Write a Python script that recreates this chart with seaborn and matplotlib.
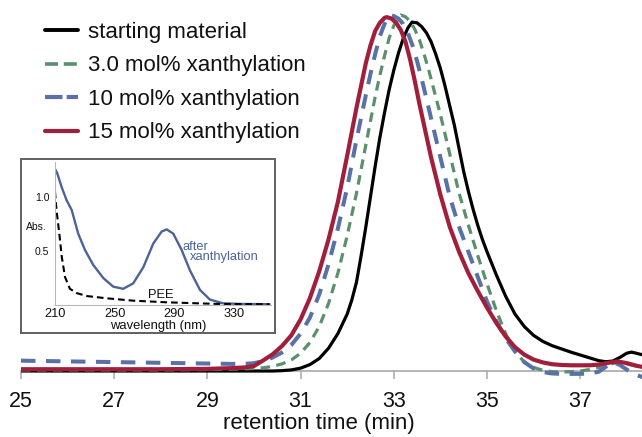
import matplotlib
matplotlib.use("Agg")
import matplotlib.pyplot as plt
from matplotlib.lines import Line2D
import seaborn as sns

# ---------------- data ----------------
labels = ["starting material", "3.0 mol% xanthylation",
          "10 mol% xanthylation", "15 mol% xanthylation"]

t_start = [25, 26, 27, 28, 29, 30, 30.4, 30.6, 30.8, 31.0, 31.2, 31.4, 31.6, 31.8,
           32.0, 32.1, 32.2, 32.3, 32.4, 32.5, 32.6, 32.7, 32.8, 32.9, 33.0, 33.1, 33.2,
           33.3, 33.39, 33.5, 33.6, 33.7, 33.8, 33.9, 34.0, 34.1, 34.2, 34.3, 34.4, 34.5,
           34.6, 34.7, 34.8, 34.9, 35.0, 35.2, 35.4, 35.6, 35.8, 36.0, 36.2, 36.4, 36.6,
           36.8, 37.0, 37.2, 37.4, 37.55, 37.7, 37.85, 38.0, 38.1, 38.2, 38.35]
v_start = [0, 0, 0, 0, 0, 0, 0.0, 0.001, 0.003, 0.008, 0.018, 0.035, 0.064, 0.105,
           0.16, 0.2, 0.25, 0.325, 0.405, 0.49, 0.575, 0.655, 0.725, 0.79, 0.845, 0.893,
           0.933, 0.963, 0.98, 0.978, 0.967, 0.95, 0.925, 0.89, 0.85, 0.80, 0.745, 0.69,
           0.625, 0.56, 0.505, 0.455, 0.41, 0.37, 0.335, 0.27, 0.21, 0.16, 0.125, 0.10,
           0.083, 0.071, 0.062, 0.053, 0.045, 0.037, 0.029, 0.026, 0.028, 0.038, 0.05,
           0.053, 0.05, 0.045]

t_3 = [25, 26, 27, 28, 29, 29.5, 29.8, 30.0, 30.2, 30.4, 30.6, 30.8, 31.0, 31.2, 31.4,
       31.6, 31.8, 32.0, 32.2, 32.4, 32.6, 32.7, 32.8, 32.9, 33.0, 33.1, 33.15, 33.25,
       33.35, 33.45, 33.55, 33.65, 33.75, 33.85, 34.0, 34.2, 34.4, 34.6, 34.8, 35.0,
       35.2, 35.4, 35.6, 35.8, 36.0, 36.2, 36.4, 36.6, 36.8, 37.0, 37.2, 37.4, 37.6,
       37.8, 38.0, 38.2, 38.35]
v_3 = [0.003, 0.003, 0.003, 0.003, 0.004, 0.005, 0.006, 0.007, 0.009, 0.013, 0.02,
       0.031, 0.05, 0.08, 0.125, 0.19, 0.275, 0.38, 0.50, 0.635, 0.77, 0.83, 0.885,
       0.935, 0.97, 0.993, 1.0, 0.995, 0.982, 0.96, 0.93, 0.89, 0.845, 0.795, 0.72,
       0.61, 0.50, 0.41, 0.325, 0.245, 0.17, 0.105, 0.055, 0.025, 0.01, 0.002, -0.002,
       -0.003, -0.002, 0.0, 0.004, 0.01, 0.018, 0.024, 0.02, 0.014, 0.01]

t_10 = [25, 26, 27, 28, 29, 29.5, 29.8, 30.0, 30.2, 30.4, 30.6, 30.8, 31.0, 31.2,
        31.4, 31.6, 31.8, 32.0, 32.2, 32.4, 32.5, 32.6, 32.7, 32.8, 32.92, 33.0, 33.1,
        33.2, 33.3, 33.4, 33.5, 33.6, 33.7, 33.8, 34.0, 34.2, 34.4, 34.6, 34.8, 35.0,
        35.2, 35.4, 35.6, 35.8, 36.0, 36.2, 36.4, 36.6, 36.8, 37.0, 37.2, 37.4, 37.55,
        37.7, 37.85, 38.0, 38.15, 38.35]
v_10 = [0.029, 0.027, 0.025, 0.023, 0.021, 0.02, 0.02, 0.022, 0.028, 0.038, 0.052,
        0.073, 0.105, 0.15, 0.215, 0.30, 0.40, 0.515, 0.65, 0.775, 0.835, 0.89, 0.94,
        0.975, 1.0, 0.997, 0.99, 0.975, 0.95, 0.915, 0.87, 0.82, 0.765, 0.71, 0.60,
        0.49, 0.405, 0.335, 0.265, 0.195, 0.14, 0.092, 0.055, 0.025, 0.007, -0.003,
        -0.007, -0.008, -0.008, -0.008, -0.007, -0.002, 0.012, 0.025, 0.017, 0.004,
        -0.008, -0.018]

t_15 = [25, 26, 27, 28, 29, 29.5, 29.8, 30.0, 30.2, 30.4, 30.6, 30.8, 31.0, 31.2,
        31.4, 31.6, 31.8, 32.0, 32.2, 32.4, 32.5, 32.6, 32.7, 32.8, 32.85, 32.95, 33.05,
        33.15, 33.25, 33.35, 33.45, 33.55, 33.65, 33.8, 34.0, 34.2, 34.4, 34.6, 34.8,
        35.0, 35.2, 35.4, 35.6, 35.8, 36.0, 36.2, 36.4, 36.6, 36.8, 37.0, 37.2, 37.4,
        37.6, 37.8, 38.0, 38.2, 38.35]
v_15 = [0.005, 0.005, 0.005, 0.005, 0.006, 0.008, 0.01, 0.014, 0.03, 0.047, 0.07, 0.10,
        0.145, 0.205, 0.28, 0.37, 0.475, 0.605, 0.74, 0.865, 0.915, 0.955, 0.978, 0.992,
        0.994, 0.99, 0.978, 0.958, 0.925, 0.875, 0.815, 0.75, 0.69, 0.60, 0.495, 0.405,
        0.335, 0.275, 0.225, 0.178, 0.135, 0.097, 0.067, 0.046, 0.032, 0.024, 0.019,
        0.017, 0.016, 0.016, 0.016, 0.018, 0.023, 0.027, 0.022, 0.015, 0.011]

x_ticks = [25, 27, 29, 31, 33, 35, 37]

# inset (UV-vis)
wl_after = [210, 211.5, 214.5, 217.8, 221.2, 225.6, 230.1, 235.7, 242.4, 249.1, 255.8,
            262.5, 269.3, 276, 281.6, 285, 289.4, 295, 300.6, 307.3, 314, 323, 334, 354]
abs_after = [1.26, 1.22, 1.09, 0.97, 0.88, 0.66, 0.51, 0.37, 0.25, 0.17, 0.15, 0.20, 0.35,
             0.57, 0.68, 0.70, 0.66, 0.51, 0.32, 0.14, 0.05, 0.015, 0.01, 0.007]
wl_pee = [210, 211, 212.9, 214.5, 216.7, 220, 224.6, 231.3, 244.7, 262.6, 285, 318.5, 354]
abs_pee = [1.05, 0.88, 0.66, 0.45, 0.26, 0.15, 0.11, 0.083, 0.062, 0.04, 0.025, 0.01, 0.007]
inset_xticks = [210, 250, 290, 330]
inset_yticks = [0.5, 1.0]

# ---------------- style ----------------
sns.set_theme(style="white")
plt.rcParams["font.family"] = ["Liberation Sans", "DejaVu Sans"]

W, H = 642, 437
fig = plt.figure(figsize=(W / 100, H / 100), dpi=100)

def fx(px):
    return px / W

def fy(py):
    return 1 - py / H

base_px, unit_px = 371, 356
ax = fig.add_axes([fx(21), fy(385), 1 - fx(21), (385 - 5) / H])

c_black = "#000000"
c_green = "#5b8f6e"
c_blue = "#5872a8"
c_red = "#a21f3c"

sns.lineplot(x=t_start, y=v_start, ax=ax, color=c_black, linewidth=2.3, zorder=3)
sns.lineplot(x=t_3, y=v_3, ax=ax, color=c_green, linewidth=2.3,
             linestyle=(0, (3.0, 2.0)), zorder=4)
sns.lineplot(x=t_10, y=v_10, ax=ax, color=c_blue, linewidth=2.9,
             linestyle=(0, (3.6, 2.6)), zorder=5)
sns.lineplot(x=t_15, y=v_15, ax=ax, color=c_red, linewidth=3.0, zorder=6)

ax.set_xlim(25, 25 + (W - 21) / 46.6)
ax.set_ylim((base_px - 385) / unit_px, (base_px - 5) / unit_px)
for s in ["top", "right", "left"]:
    ax.spines[s].set_visible(False)
ax.spines["bottom"].set_position(("data", 0))
ax.spines["bottom"].set_color("#a8a8a8")
ax.spines["bottom"].set_linewidth(1.2)
ax.set_xticks(x_ticks)
ax.set_yticks([])
ax.tick_params(axis="x", direction="out", length=6, width=1.1, color="#a8a8a8",
               labelsize=15.5, pad=8.5, bottom=True, labelcolor="#111111")
ax.set_xlabel("retention time (min)", fontsize=16, color="#111111")
ax.xaxis.set_label_coords(fx(319), fy(423), transform=fig.transFigure)
ax.xaxis.label.set_verticalalignment("center")
ax.set_ylabel("")

handles = [
    Line2D([], [], color=c_black, linewidth=2.8),
    Line2D([], [], color=c_green, linewidth=2.6, linestyle=(0, (3.6, 1.6))),
    Line2D([], [], color=c_blue, linewidth=3.0, linestyle=(0, (4.2, 1.0))),
    Line2D([], [], color=c_red, linewidth=3.0),
]
leg = ax.legend(handles, labels, loc="upper left",
                bbox_to_anchor=(fx(45), fy(22)), bbox_transform=fig.transFigure,
                frameon=False, fontsize=16, handlelength=1.5, handletextpad=0.45,
                labelspacing=0.56, borderpad=0, borderaxespad=0)
for txt in leg.get_texts():
    txt.set_color("#111111")

# ---------------- inset ----------------
frame = fig.add_axes([fx(21), fy(333), (275 - 21) / W, (333 - 159) / H], zorder=5)
frame.set_xticks([])
frame.set_yticks([])
frame.set_facecolor("white")
for s in frame.spines.values():
    s.set_color("#606060")
    s.set_linewidth(1.4)

ipx = 216 / 145  # px per nm
ax2 = fig.add_axes([fx(55), fy(305), 145 * ipx / W, 1.32 * 108 / H], zorder=6)
ax2.patch.set_alpha(0)
c_ublue = "#4b6495"
sns.lineplot(x=wl_after, y=abs_after, ax=ax2, color=c_ublue, linewidth=1.7)
sns.lineplot(x=wl_pee, y=abs_pee, ax=ax2, color="black", linewidth=1.5,
             linestyle=(0, (3.2, 1.9)))
ax2.set_xlim(210, 355)
ax2.set_ylim(0, 1.32)
for s in ["top", "right"]:
    ax2.spines[s].set_visible(False)
for s in ["left", "bottom"]:
    ax2.spines[s].set_color("#b8b8b8")
    ax2.spines[s].set_linewidth(0.8)
ax2.set_xticks(inset_xticks)
ax2.set_yticks(inset_yticks)
ax2.set_yticklabels(["0.5", "1.0"])
ax2.tick_params(axis="x", length=0, labelsize=9.2, pad=2.5, labelcolor="#111111")
ax2.tick_params(axis="y", length=0, labelsize=7.5, pad=4, labelcolor="#111111")
ax2.set_xlabel("")
ax2.set_ylabel("")
ax2.text(210 + (158 - 55) / ipx, -(325.5 - 305) / 108, "wavelength (nm)", fontsize=9.4,
         ha="center", va="center", color="#111111", clip_on=False)
ax2.text(210 + (36 - 55) / ipx, (305 - 227) / 108, "Abs.", fontsize=7.5,
         ha="center", va="center", color="#111111", clip_on=False)
ax2.text(295.7, 0.54, "after", fontsize=9.3, ha="left", va="center", color=c_ublue)
ax2.text(300.6, 0.44, "xanthylation", fontsize=9.3, ha="left", va="center", color=c_ublue)
ax2.text(272.4, 0.095, "PEE", fontsize=9.3, ha="left", va="center", color="#111111")

fig.savefig("out.png", dpi=100)
